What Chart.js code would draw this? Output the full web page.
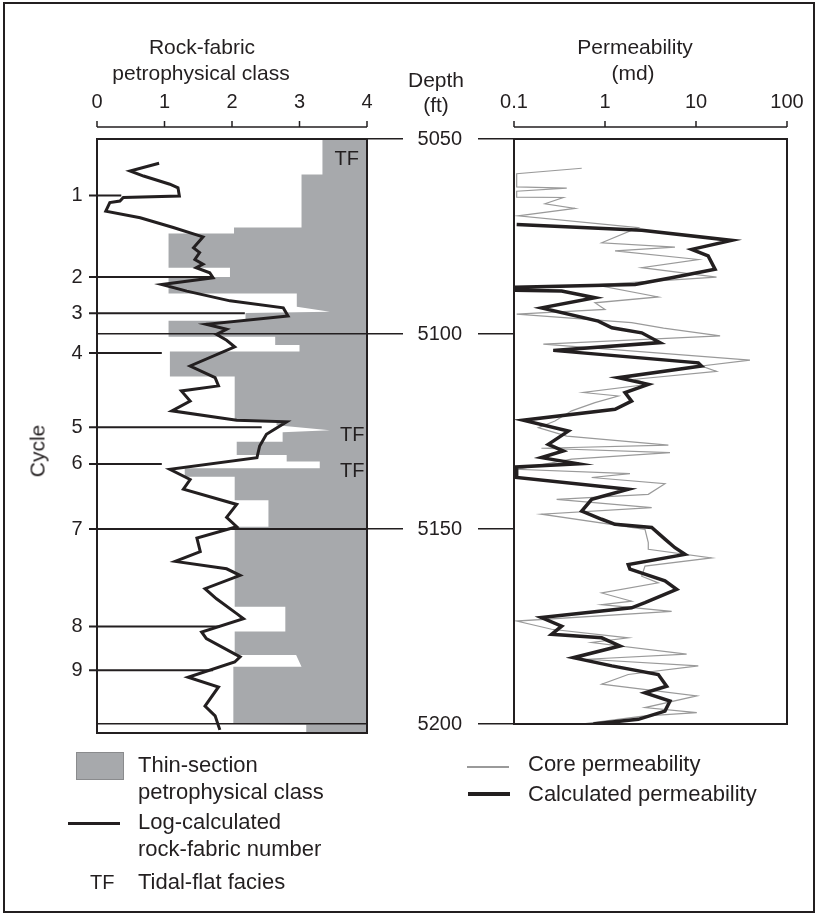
<!DOCTYPE html>
<html>
<head>
<meta charset="utf-8">
<script src="https://cdn.jsdelivr.net/npm/chart.js@4.4.1/dist/chart.umd.min.js"></script>
<style>
  body { margin: 0; background: #fff; }
  #page { position: relative; width: 816px; height: 915px; overflow: hidden; font-family: "Liberation Sans", Arial, sans-serif; color: #231f20; }
  #page canvas { position: absolute; left: 0; top: 0; }
  .frame { position: absolute; left: 3px; top: 2px; width: 812px; height: 911px; box-sizing: border-box; border: 2px solid #231f20; }
  .t { position: absolute; white-space: nowrap; line-height: 1; }
  .c { transform: translate(-50%, -50%); }
  .title { font-size: 21px; }
  .leg { font-size: 22px; line-height: 22px; }
</style>
</head>
<body>
<div id="page">
  <div class="frame"></div>
  <canvas id="leftPanel" width="816" height="915"></canvas>
  <canvas id="rightPanel" width="816" height="915"></canvas>

  <div class="t c title" style="left:202px;top:46px">Rock-fabric</div>
  <div class="t c title" style="left:201px;top:72px">petrophysical class</div>
  <div class="t c title" style="left:436px;top:79px">Depth</div>
  <div class="t c title" style="left:436px;top:104px">(ft)</div>
  <div class="t c title" style="left:635px;top:46px">Permeability</div>
  <div class="t c title" style="left:633px;top:72px">(md)</div>
  <div class="t title" style="left:37px;top:451px;transform:translate(-50%,-50%) rotate(-90deg)">Cycle</div>

  <!-- legend -->
  <div style="position:absolute;left:76px;top:752px;width:48px;height:28px;box-sizing:border-box;background:#a7a9ac;border:1px solid #8a8b8d"></div>
  <div class="t leg" style="left:138px;top:754px">Thin-section</div>
  <div class="t leg" style="left:138px;top:781px">petrophysical class</div>
  <div style="position:absolute;left:68px;top:822px;width:52px;height:3px;background:#231f20"></div>
  <div class="t leg" style="left:138px;top:811px">Log-calculated</div>
  <div class="t leg" style="left:138px;top:838px">rock-fabric number</div>
  <div class="t leg" style="left:90px;top:871px;font-size:20px">TF</div>
  <div class="t leg" style="left:138px;top:871px">Tidal-flat facies</div>

  <div style="position:absolute;left:467px;top:766px;width:42px;height:1.5px;background:#9a9a9a"></div>
  <div class="t leg" style="left:528px;top:753px">Core permeability</div>
  <div style="position:absolute;left:468px;top:792px;width:42px;height:4px;background:#231f20"></div>
  <div class="t leg" style="left:528px;top:783px">Calculated permeability</div>
</div>

<script>
const INK = "#231f20";
const FONT = '"Liberation Sans", Arial, sans-serif';

// axis ticks
const rfTicks = [0, 1, 2, 3, 4];
const permTicks = [0.1, 1, 10, 100];
const depthTicks = [5050, 5100, 5150, 5200];

// log-calculated rock-fabric number (black curve, left panel)
const rfDepth = [5056.2, 5058.2, 5059.5, 5061.6, 5062.5, 5064.6, 5065.0, 5065.9, 5066.3, 5068.5,
  5070.2, 5072.7, 5075.1, 5077.9, 5079.1, 5080.9, 5082.1, 5083.0, 5084.3, 5085.6,
  5087.3, 5089.0, 5091.5, 5093.3, 5095.4, 5097.5, 5098.8, 5100.1, 5101.6, 5103.3,
  5108.2, 5111.2, 5113.3, 5114.6, 5117.2, 5119.7, 5122.1, 5122.5, 5125.7, 5128.7,
  5131.7, 5134.7, 5137.3, 5139.8, 5143.7, 5147.0, 5149.4, 5152.3, 5155.8, 5158.3,
  5160.2, 5161.9, 5165.3, 5167.9, 5171.7, 5173.0, 5176.4, 5178.1, 5182.8, 5184.1,
  5188.0, 5190.5, 5195.4, 5197.9, 5201.5];
const rfNumber = [0.92, 0.49, 0.69, 1.08, 1.20, 1.22, 0.39, 0.34, 0.19, 0.13,
  0.64, 1.13, 1.57, 1.43, 1.52, 1.45, 1.57, 1.47, 1.67, 1.72,
  0.96, 1.33, 1.97, 2.76, 2.83, 1.62, 1.92, 1.77, 1.92, 2.04,
  1.38, 1.75, 1.80, 1.25, 1.38, 1.11, 2.07, 2.81, 2.51, 2.41,
  2.37, 1.08, 1.38, 1.28, 2.07, 1.92, 2.07, 1.48, 1.53, 1.16,
  1.92, 2.12, 1.60, 1.77, 2.07, 2.17, 1.55, 1.62, 2.12, 2.04,
  1.35, 1.80, 1.60, 1.75, 1.82];

// thin-section petrophysical class (outline of the grey area, filled to class 4)
const tsDepth = [5050, 5059.1, 5059.1, 5072.7, 5072.7, 5074.2, 5074.2, 5083.0, 5083.0, 5085.4,
  5085.4, 5089.6, 5089.6, 5093.0, 5094.3, 5094.6, 5096.6, 5096.6, 5100.7, 5100.7,
  5102.8, 5102.8, 5104.5, 5104.5, 5110.9, 5110.9, 5122.1, 5122.1, 5123.4, 5124.7,
  5125.2, 5127.6, 5127.6, 5131.0, 5131.0, 5132.7, 5132.7, 5134.4, 5134.4, 5136.6,
  5136.6, 5142.6, 5142.6, 5149.4, 5149.4, 5169.9, 5169.9, 5176.3, 5176.3, 5182.3,
  5182.3, 5185.3, 5185.3, 5200.0, 5200.2, 5202.3];
const tsClass = [3.34, 3.34, 3.03, 3.03, 2.03, 2.03, 1.06, 1.06, 1.97, 1.97,
  1.06, 1.06, 2.96, 2.96, 3.45, 2.20, 2.20, 1.06, 1.06, 2.64,
  2.64, 3.00, 3.00, 1.08, 1.08, 2.04, 2.04, 2.66, 2.66, 3.45,
  2.75, 2.75, 2.07, 2.07, 2.81, 2.81, 3.30, 3.30, 1.30, 1.30,
  2.04, 2.04, 2.54, 2.54, 2.04, 2.04, 2.79, 2.79, 2.04, 2.04,
  2.95, 3.03, 2.02, 2.02, 3.10, 3.10];

// cycle boundaries
const cycleLabels = ["1", "2", "3", "4", "5", "6", "7", "8", "9"];
const cycleDepth = [5064.5, 5085.4, 5094.7, 5104.9, 5123.9, 5133.3, 5150.0, 5175.0, 5186.2];
const cycleEnd = [0.36, 1.72, 2.19, 0.96, 2.44, 0.96, 4.0, 1.82, 1.72];

// tidal-flat facies labels
const tfDepth = [5055.2, 5125.9, 5135.3];
const tfValue = [3.70, 3.78, 3.78];

// core permeability (thin grey curve, md)
const coreDepth = [5057.5, 5058.9, 5062.3, 5062.6, 5063.4, 5064.9, 5065.0, 5066.6, 5067.8, 5069.7,
  5072.7, 5076.6, 5077.7, 5078.7, 5080.9, 5083.0, 5085.4, 5087.4, 5090.5, 5092.0,
  5093.7, 5094.9, 5097.1, 5098.5, 5100.5, 5102.6, 5106.7, 5108.2, 5109.6, 5111.6,
  5112.9, 5115.0, 5115.9, 5117.6, 5119.7, 5122.3, 5124.0, 5126.2, 5128.5, 5129.3,
  5130.4, 5132.1, 5134.7, 5135.8, 5136.8, 5138.4, 5141.1, 5142.4, 5144.5, 5146.2,
  5150.1, 5153.5, 5155.2, 5157.4, 5159.5, 5162.1, 5163.8, 5166.4, 5168.5, 5169.4,
  5171.1, 5173.6, 5175.7, 5177.9, 5179.1, 5182.1, 5183.4, 5185.1, 5187.3, 5189.8,
  5192.8, 5195.8, 5197.1, 5198.0, 5200.3];
const corePerm = [0.555, 0.107, 0.107, 0.38, 0.107, 0.107, 0.348, 0.219, 0.468, 0.111,
  2.32, 0.92, 5.87, 1.29, 10.6, 2.53, 16.8, 0.776, 3.85, 0.776,
  1.0, 0.107, 1.96, 4.4, 18.4, 0.21, 39.2, 11.5, 16.8, 2.14,
  2.99, 0.578, 1.4, 0.776, 0.43, 0.282, 0.185, 0.38, 4.97, 0.2,
  5.18, 0.43, 0.107, 1.88, 0.714, 4.56, 2.99, 0.294, 3.26, 0.2,
  2.75, 2.99, 2.99, 14.8, 2.75, 2.53, 3.85, 0.92, 1.96, 0.92,
  5.4, 0.107, 0.259, 1.8, 0.714, 7.89, 0.63, 10.6, 1.8, 0.92,
  10.2, 2.75, 10.2, 2.6, 0.449];

// calculated permeability (thick black curve, md)
const calcDepth = [5071.9, 5073.4, 5076.0, 5078.3, 5080.0, 5083.4, 5085.6, 5087.3, 5088.0, 5088.8,
  5089.0, 5090.7, 5093.3, 5096.7, 5098.4, 5099.7, 5102.2, 5104.2, 5107.4, 5108.2,
  5111.2, 5112.9, 5115.0, 5117.2, 5119.3, 5122.1, 5124.9, 5128.3, 5130.0, 5131.7,
  5133.3, 5134.1, 5136.8, 5139.8, 5142.4, 5145.4, 5147.5, 5148.8, 5149.6, 5152.6,
  5154.8, 5156.5, 5159.1, 5160.3, 5163.3, 5165.5, 5168.9, 5170.2, 5172.7, 5174.9,
  5177.0, 5177.9, 5180.0, 5183.0, 5185.1, 5187.3, 5190.3, 5192.0, 5194.1, 5196.7,
  5198.8, 5200.0];
const calcPerm = [0.107, 2.53, 24.6, 8.97, 13.6, 16.2, 5.4, 2.14, 0.107, 0.107,
  0.334, 0.776, 0.201, 0.844, 1.19, 2.53, 4.02, 0.27, 10.6, 11.5,
  1.4, 2.99, 1.66, 1.96, 1.29, 0.126, 0.395, 0.238, 0.348, 0.2,
  0.509, 0.107, 0.107, 1.8, 0.714, 0.555, 0.92, 1.29, 3.26, 4.56,
  5.87, 7.57, 1.8, 1.88, 4.56, 6.13, 2.75, 1.96, 0.2, 0.334,
  0.259, 0.92, 1.46, 0.449, 1.19, 3.85, 4.76, 2.75, 5.18, 4.56,
  2.32, 0.745];

const toPoints = (depths, values) => depths.map((d, i) => ({ x: values[i], y: d }));

// keep the plot boxes exactly where the layout padding puts them
function fixScaleSize(axis, size) {
  if (axis.isHorizontal()) axis.height = size;
  else axis.width = size;
  axis.paddingLeft = 0;
  axis.paddingRight = 0;
  axis.paddingTop = 0;
  axis.paddingBottom = 0;
}

function drawTopAxis(ctx, scale, yLine) {
  ctx.beginPath();
  ctx.moveTo(scale.left, yLine);
  ctx.lineTo(scale.right, yLine);
  scale.ticks.forEach((t) => {
    const px = scale.getPixelForValue(t.value);
    ctx.moveTo(px, yLine);
    ctx.lineTo(px, yLine - 6);
  });
  ctx.stroke();
}

function drawFrame(ctx, a) {
  ctx.lineWidth = 2;
  ctx.strokeStyle = INK;
  ctx.strokeRect(a.left, a.top, a.right - a.left, a.bottom - a.top);
  ctx.lineWidth = 1.5;
}

const leftDecor = {
  id: "leftDecor",
  afterDraw(chart) {
    const { ctx, chartArea: a, scales: { x, y } } = chart;
    ctx.save();
    drawFrame(ctx, a);
    drawTopAxis(ctx, x, a.top - 12);

    ctx.lineWidth = 2;
    ctx.beginPath();
    cycleDepth.forEach((d, i) => {
      const py = y.getPixelForValue(d);
      ctx.moveTo(a.left - 8, py);
      ctx.lineTo(x.getPixelForValue(cycleEnd[i]), py);
    });
    ctx.stroke();

    ctx.fillStyle = INK;
    ctx.font = "20px " + FONT;
    ctx.textAlign = "center";
    ctx.textBaseline = "middle";
    cycleLabels.forEach((c, i) => ctx.fillText(c, a.left - 20, y.getPixelForValue(cycleDepth[i])));
    tfDepth.forEach((d, i) => ctx.fillText("TF", x.getPixelForValue(tfValue[i]), y.getPixelForValue(d)));
    ctx.restore();
  },
};

const rightDecor = {
  id: "rightDecor",
  afterDraw(chart) {
    const { ctx, chartArea: a, scales: { x } } = chart;
    ctx.save();
    drawFrame(ctx, a);
    drawTopAxis(ctx, x, a.top - 12);
    ctx.restore();
  },
};

const tickFont = { family: FONT, size: 20 };

new Chart(document.getElementById("leftPanel"), {
  type: "line",
  data: {
    datasets: [
      {
        label: "Log-calculated rock-fabric number",
        data: toPoints(rfDepth, rfNumber),
        borderColor: INK,
        borderWidth: 3,
        pointRadius: 0,
        fill: false,
      },
      {
        label: "Thin-section petrophysical class",
        data: toPoints(tsDepth, tsClass),
        borderWidth: 0,
        borderColor: "rgba(0,0,0,0)",
        backgroundColor: "#a7a9ac",
        pointRadius: 0,
        fill: { value: 4 },
      },
    ],
  },
  options: {
    indexAxis: "y",
    responsive: false,
    animation: false,
    events: [],
    layout: { padding: { left: 97, top: 92, right: 413, bottom: 182 } },
    plugins: { legend: { display: false }, tooltip: { enabled: false } },
    scales: {
      x: {
        type: "linear",
        position: "top",
        min: 0,
        max: 4,
        afterBuildTicks: (axis) => { axis.ticks = rfTicks.map((v) => ({ value: v })); },
        afterFit: (axis) => fixScaleSize(axis, 47),
        grid: { display: false },
        border: { display: false },
        ticks: { padding: 17, color: INK, font: tickFont, maxRotation: 0, callback: (v) => String(v) },
      },
      y: {
        type: "linear",
        position: "right",
        reverse: true,
        min: 5050,
        max: 5202.3,
        afterBuildTicks: (axis) => { axis.ticks = depthTicks.map((v) => ({ value: v })); },
        afterFit: (axis) => fixScaleSize(axis, 36),
        grid: {
          z: 1,
          color: INK,
          lineWidth: 1.5,
          tickLength: 36,
          tickColor: (c) => (c.tick && c.tick.value === 5200 ? "rgba(0,0,0,0)" : INK),
        },
        border: { display: false },
        ticks: { display: false },
      },
    },
  },
  plugins: [leftDecor],
});

new Chart(document.getElementById("rightPanel"), {
  type: "line",
  data: {
    datasets: [
      {
        label: "Calculated permeability",
        data: toPoints(calcDepth, calcPerm),
        borderColor: INK,
        borderWidth: 3.5,
        pointRadius: 0,
        fill: false,
      },
      {
        label: "Core permeability",
        data: toPoints(coreDepth, corePerm),
        borderColor: "#9a9a9a",
        borderWidth: 1.2,
        pointRadius: 0,
        fill: false,
      },
    ],
  },
  options: {
    indexAxis: "y",
    responsive: false,
    animation: false,
    events: [],
    layout: { padding: { left: 414, top: 92, right: 29, bottom: 191 } },
    plugins: { legend: { display: false }, tooltip: { enabled: false } },
    scales: {
      x: {
        type: "logarithmic",
        position: "top",
        min: 0.1,
        max: 100,
        afterBuildTicks: (axis) => { axis.ticks = permTicks.map((v) => ({ value: v })); },
        afterFit: (axis) => fixScaleSize(axis, 47),
        grid: { display: false },
        border: { display: false },
        ticks: { padding: 17, color: INK, font: tickFont, maxRotation: 0, callback: (v) => String(v) },
      },
      y: {
        type: "linear",
        position: "left",
        reverse: true,
        min: 5050,
        max: 5200,
        afterBuildTicks: (axis) => { axis.ticks = depthTicks.map((v) => ({ value: v })); },
        afterFit: (axis) => fixScaleSize(axis, 100),
        grid: { drawOnChartArea: false, color: INK, lineWidth: 1.5, tickLength: 36 },
        border: { display: false },
        ticks: { padding: 16, color: INK, font: tickFont, callback: (v) => String(v) },
      },
    },
  },
  plugins: [rightDecor],
});
</script>
</body>
</html>
